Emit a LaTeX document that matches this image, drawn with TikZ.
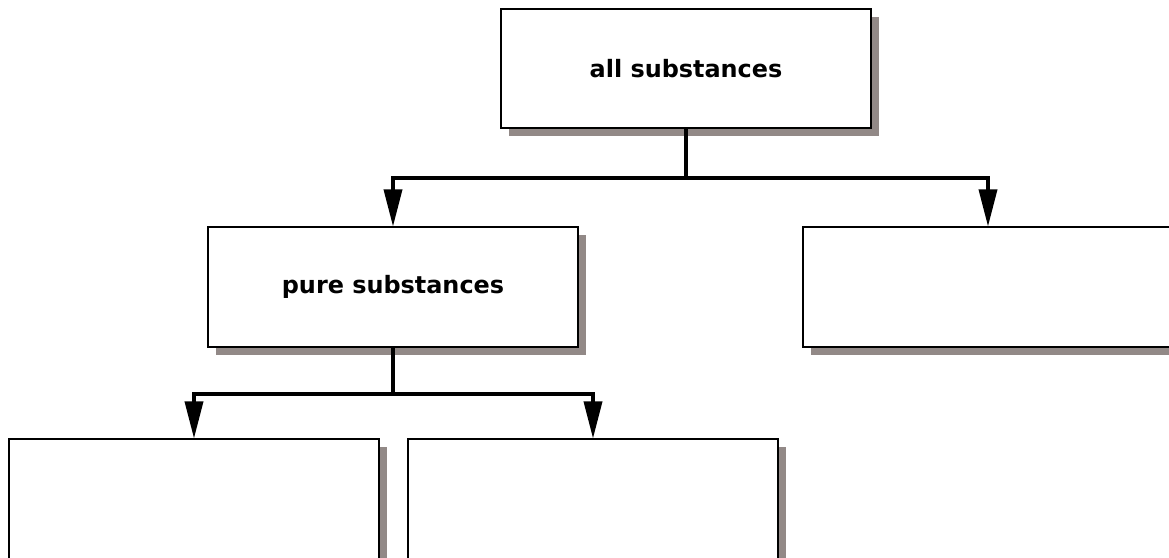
\documentclass[tikz,border=0pt]{standalone}
\usepackage{fontspec}
\setmainfont{DejaVu Sans}
\usepackage{tikz}
\usetikzlibrary{positioning,shadows,arrows.meta}
\definecolor{shadowgray}{RGB}{146,137,135}

\begin{document}
\begin{tikzpicture}[x=1bp,y=-1bp,
	box/.style={draw,line width=2bp,fill=white,minimum width=370bp,minimum height=119bp,inner sep=0pt,
		font=\fontsize{24}{28}\selectfont\bfseries,
		drop shadow={shadow xshift=8bp,shadow yshift=-8bp,fill=shadowgray,opacity=1}},
	link/.style={line width=3.5bp},
	arr/.style={line width=3.5bp,-{Triangle[length=37bp,width=18bp]}}]
	\useasboundingbox (0,0) rectangle (1169,558);

	\node[box] (all) at (686,69) {all substances};
	\node[box] (pure) at (393,287) {pure substances};
	\node[box] (other) at (988,287) {};
	\node[box] (left) at (194,499) {};
	\node[box] (mid) at (593,499) {};

	\coordinate (j1) at (686,178);
	\coordinate (j2) at (393,394);

	\draw[link] (all.south) -- (j1);
	\draw[arr] (j1) -| (pure.north);
	\draw[arr] (j1) -| (other.north);

	\draw[link] (pure.south) -- (j2);
	\draw[arr] (j2) -| (left.north);
	\draw[arr] (j2) -| (mid.north);
\end{tikzpicture}
\end{document}
